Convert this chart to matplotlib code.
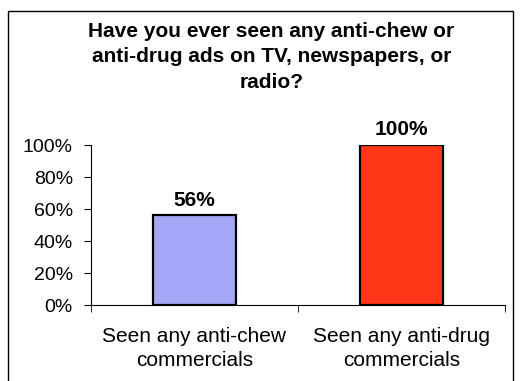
import matplotlib
matplotlib.use("Agg")
import matplotlib.pyplot as plt
from matplotlib.patches import Rectangle

plt.rcParams['font.family'] = ['Liberation Sans', 'DejaVu Sans']

# data
categories = ['Seen any anti-chew\ncommercials', 'Seen any anti-drug\ncommercials']
values = [0.56, 1.00]
bar_labels = ['56%', '100%']
bar_colors = ['#A6A6F8', '#FF3618']
yticks = [0, 0.2, 0.4, 0.6, 0.8, 1.0]
ytick_labels = ['0%', '20%', '40%', '60%', '80%', '100%']
title = 'Have you ever seen any anti-chew or\nanti-drug ads on TV, newspapers, or\nradio?'

fig = plt.figure(figsize=(5.23, 3.81), dpi=100)
fig.patch.set_facecolor('white')

# outer frame (open at the bottom, like the source)
frame = Rectangle((8 / 523, -0.05), (513 - 8) / 523, 1.05 - 11 / 381,
                  transform=fig.transFigure, fill=False, edgecolor='black',
                  linewidth=1.0)
fig.patches.append(frame)

fig.text(0.519, 0.942, title, ha='center', va='top', fontsize=15,
         fontweight='bold', linespacing=1.42)

ax = fig.add_axes([91 / 523, 1 - 305 / 381, (505 - 91) / 523, 160 / 381])
x = list(range(len(categories)))
ax.bar(x, values, width=0.4, color=bar_colors, edgecolor='black', linewidth=1.6)

for xi, v, lab in zip(x, values, bar_labels):
    ax.annotate(lab, (xi, v), xytext=(0, 4), textcoords='offset points',
                ha='center', va='bottom', fontsize=15, fontweight='bold')

ax.set_xlim(-0.5, 1.5)
ax.set_ylim(0, 1)
ax.set_yticks(yticks)
ax.set_yticklabels(ytick_labels, fontsize=14)
ax.set_xticks(x)
ax.set_xticklabels(categories, fontsize=15, linespacing=1.3)
ax.set_xticks([-0.5, 0.5, 1.5], minor=True)
ax.tick_params(axis='x', which='major', length=0, pad=16)
ax.tick_params(axis='x', which='minor', length=5, direction='out')
ax.tick_params(axis='y', length=5, direction='out', pad=8)

for s in ['top', 'right']:
    ax.spines[s].set_visible(False)
ax.spines['left'].set_linewidth(0.8)
ax.spines['bottom'].set_linewidth(0.8)
ax.set_facecolor('none')

fig.savefig('out.png', dpi=100)
